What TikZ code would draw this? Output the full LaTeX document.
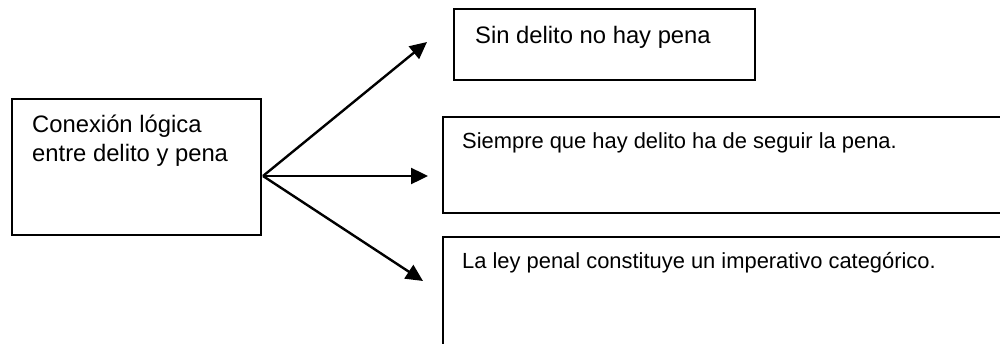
\documentclass[tikz,border=0pt]{standalone}
\usepackage{fontspec}
\setmainfont{Liberation Sans}
\usetikzlibrary{arrows.meta}
\begin{document}
\begin{tikzpicture}[x=1pt,y=-1pt,
  boxst/.style={draw=black,line width=1.4pt,inner sep=0pt,outer sep=0pt},
  txt/.style={anchor=base west,inner sep=0pt,font=\fontsize{23.8}{29}\selectfont},
  txts/.style={anchor=base west,inner sep=0pt,font=\fontsize{21.9}{27}\selectfont},
  arr/.style={line width=2.4pt,-{Triangle[length=17pt,width=16pt]}}]
\useasboundingbox (0,0) rectangle (1000,343);
\begin{scope}
\clip (0,0) rectangle (1000,343);
\draw[boxst] (12,99) rectangle (261,235);
\draw[boxst] (454,9) rectangle (755,80);
\draw[boxst] (443,117) rectangle (1010,213);
\draw[boxst] (443,237) rectangle (1010,360);
\end{scope}
\node[txt] (t0a) at (32,132) {Conexión lógica};
\node[txt] (t0b) at (32,161) {entre delito y pena};
\node[txt] (t1) at (475,43) {Sin delito no hay pena};
\node[txts] (t2) at (462,148) {Siempre que hay delito ha de seguir la pena.};
\node[txts] (t3) at (462,268) {La ley penal constituye un imperativo categórico.};
\coordinate (o) at (263,176);
\coordinate (e1) at (427,42);
\coordinate (e2) at (428,176);
\coordinate (e3) at (423,281);
\draw[arr] (o) -- (e1);
\draw[arr] (o) -- (e2);
\draw[arr] (o) -- (e3);
\end{tikzpicture}
\end{document}
